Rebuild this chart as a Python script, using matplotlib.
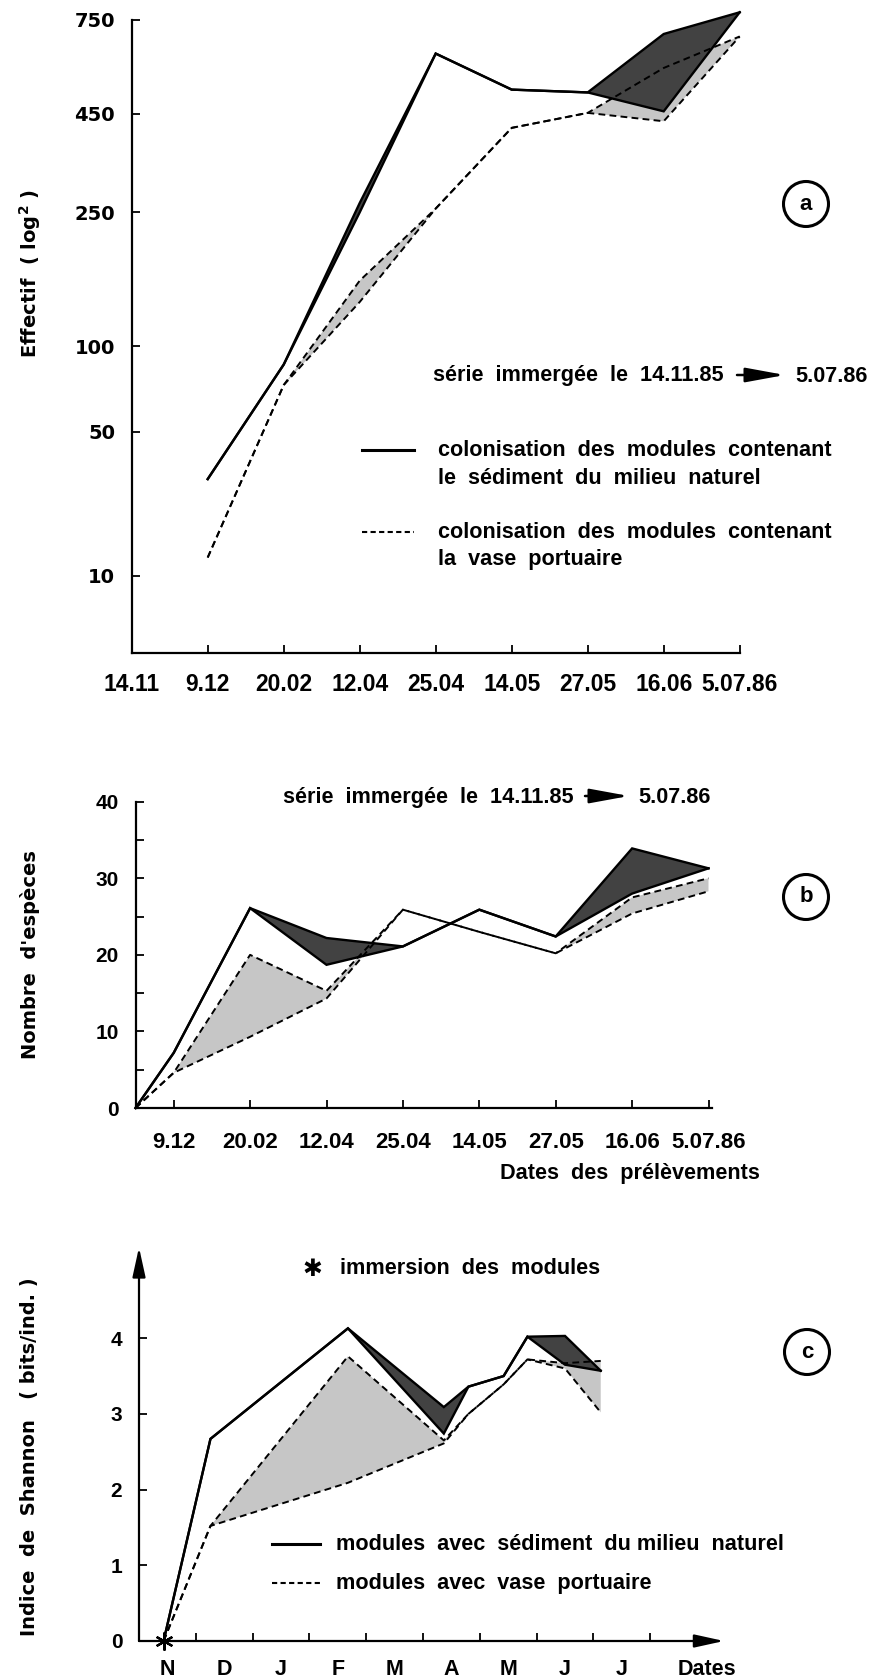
import numpy as np
import pandas as pd
import matplotlib
matplotlib.use("Agg")
import matplotlib.pyplot as plt
from matplotlib.patches import Circle, FancyArrowPatch
from matplotlib.lines import Line2D

# ---------------------------------------------------------------- data
# (a) abundance, two replicate modules per sediment type
dates_a = ["14.11", "9.12", "20.02", "12.04", "25.04", "14.05", "27.05", "16.06", "5.07.86"]
eff_nat_1 = [32, 87, 265, 627, 515, 507, 696, 780]
eff_nat_2 = [32, 87, 250, 627, 515, 507, 456, 780]
eff_vase_1 = [13, 74, 138, 256, 415, 452, 431, 687]
eff_vase_2 = [13, 74, 160, 256, 415, 452, 580, 687]
yticks_a = [10, 50, 100, 250, 450, 750]

# (b) number of species (series starts at 0 on 14.11)
dates_b = ["9.12", "20.02", "12.04", "25.04", "14.05", "27.05", "16.06", "5.07.86"]
sp_nat_1 = [0, 7.2, 26.1, 22.2, 21.1, 25.9, 22.4, 33.9, 31.3]
sp_nat_2 = [0, 7.2, 26.1, 18.7, 21.1, 25.9, 22.4, 28.0, 31.3]
sp_vase_1 = [0, 4.6, 9.3, 14.3, 25.9, 23.0, 20.2, 25.4, 28.3]
sp_vase_2 = [0, 4.6, 20.0, 15.3, 25.9, 23.0, 20.2, 27.5, 30.0]

# (c) Shannon index
dates_c = ["1985-11-14", "1985-12-09", "1986-02-20", "1986-04-12", "1986-04-25",
           "1986-05-14", "1986-05-27", "1986-06-16", "1986-07-05"]
sh_nat_1 = [0, 2.67, 4.13, 3.09, 3.36, 3.50, 4.02, 4.03, 3.57]
sh_nat_2 = [0, 2.67, 4.13, 2.74, 3.36, 3.50, 4.02, 3.65, 3.57]
sh_vase_1 = [0, 1.52, 2.09, 2.61, 3.00, 3.39, 3.72, 3.60, 3.02]
sh_vase_2 = [0, 1.52, 3.76, 2.65, 3.00, 3.39, 3.72, 3.67, 3.70]
months_c = ["N", "D", "J", "F", "M", "A", "M", "J", "J"]

# ---------------------------------------------------------------- style
W, H, DPI = 873, 1679, 100
TXT = ["Liberation Sans", "DejaVu Sans"]
NUM = ["DejaVu Sans"]
DARK = "#424242"
LIGHT = "#c6c6c6"
LW_S = 1.7
LW_D = 1.4
DASH = (0, (3.5, 2.2))
FS = 15.6

fig = plt.figure(figsize=(W / DPI, H / DPI), dpi=DPI)


def box(x0, y0, x1, y1):
    """axes rectangle from pixel corners (top-left origin)"""
    return [x0 / W, 1 - y1 / H, (x1 - x0) / W, (y1 - y0) / H]


def fx(x):
    return x / W


def fy(y):
    return 1 - y / H


def pair(ax, x, r1, r2, solid, fillc, zf):
    x = np.asarray(x, float)
    r1 = np.asarray(r1, float)
    r2 = np.asarray(r2, float)
    ax.fill(np.r_[x, x[::-1]], np.r_[r1, r2[::-1]], color=fillc, lw=0,
            zorder=zf, clip_on=False)
    for r in (r1, r2):
        if solid:
            ax.plot(x, r, color="k", lw=LW_S, zorder=5, clip_on=False,
                    solid_joinstyle="miter")
        else:
            ax.plot(x, r, color="k", lw=LW_D, ls=DASH, zorder=4, clip_on=False)


def base_axes(ax):
    for s in ("top", "right"):
        ax.spines[s].set_visible(False)
    for s in ("left", "bottom"):
        ax.spines[s].set_linewidth(1.6)
    ax.tick_params(which="both", direction="in", width=1.3, length=6, colors="k")


def circ_label(x, y, s):
    fig.add_artist(Circle((x / DPI, (H - y) / DPI), 22.5 / DPI,
                          transform=fig.dpi_scale_trans, fill=False, lw=2.2,
                          ec="k"))
    fig.text(fx(x), fy(y), s, ha="center", va="center", fontsize=16,
             fontweight="bold", family=TXT)


def legend_line(x0, x1, y, solid):
    if solid:
        ln = Line2D([fx(x0), fx(x1)], [fy(y), fy(y)], color="k", lw=2.2,
                    transform=fig.transFigure)
    else:
        ln = Line2D([fx(x0), fx(x1)], [fy(y), fy(y)], color="k", lw=1.5,
                    ls=(0, (2.5, 1.6)), transform=fig.transFigure)
    fig.add_artist(ln)


def series_note(x_left, y, x_arrow0, x_arrow1, x_end):
    fig.text(fx(x_left), fy(y), "série  immergée  le  14.11.85", ha="left",
             va="center", fontsize=FS, fontweight="bold", family=TXT)
    fig.add_artist(FancyArrowPatch(
        (fx(x_arrow0), fy(y - 1)), (fx(x_arrow1), fy(y - 1)),
        transform=fig.transFigure,
        arrowstyle="-|>,head_length=1.2,head_width=0.22",
        mutation_scale=20, lw=1.8, color="k", shrinkA=0, shrinkB=0))
    fig.text(fx(x_end), fy(y), "5.07.86", ha="left", va="center",
             fontsize=FS, fontweight="bold", family=TXT)


# ---------------------------------------------------------------- (a)
axa = fig.add_axes(box(131.7, 19.8, 739.7, 652.5))
axa.set_yscale("function",
               functions=(lambda v: np.log10(np.maximum(v, 1.0)) ** 2,
                          lambda u: 10 ** np.sqrt(np.maximum(u, 0.0))))
axa.set_ylim(1, 750)
axa.set_xlim(0, 8)
base_axes(axa)
xa = np.arange(1, 9)
pair(axa, xa, eff_vase_1, eff_vase_2, False, LIGHT, 1)
pair(axa, xa, eff_nat_1, eff_nat_2, True, DARK, 2)
axa.set_xticks(np.arange(0, 9))
axa.set_xticklabels(dates_a, fontsize=16.5, fontweight="bold", family=TXT)
axa.set_yticks(yticks_a)
axa.set_yticklabels([str(v) for v in yticks_a], fontsize=14,
                    fontweight="bold", family=NUM)
axa.yaxis.set_minor_locator(matplotlib.ticker.NullLocator())
axa.tick_params(axis="x", pad=15)
axa.tick_params(axis="y", pad=12)

fig.text(fx(30), fy(273), "Effectif  ( log$^{\\mathbf{2}}$ )", rotation=90,
         ha="center", va="center", fontsize=14, fontweight="bold", family=NUM)
series_note(433, 376, 737, 785, 795)
legend_line(362, 414, 450, True)
fig.text(fx(438), fy(450), "colonisation  des  modules  contenant",
         ha="left", va="center", fontsize=FS, fontweight="bold", family=TXT)
fig.text(fx(438), fy(479), "le  sédiment  du  milieu  naturel",
         ha="left", va="center", fontsize=FS, fontweight="bold", family=TXT)
legend_line(362, 414, 532, False)
fig.text(fx(438), fy(532), "colonisation  des  modules  contenant",
         ha="left", va="center", fontsize=FS, fontweight="bold", family=TXT)
fig.text(fx(438), fy(560), "la  vase  portuaire",
         ha="left", va="center", fontsize=FS, fontweight="bold", family=TXT)
circ_label(806, 204, "a")

# ---------------------------------------------------------------- (b)
axb = fig.add_axes(box(135.5, 801.7, 135.5 + 7.55 * 76.4, 1108))
axb.set_xlim(0, 7.55)
axb.set_ylim(0, 40)
base_axes(axb)
xb = np.r_[0, np.arange(8) + 0.5]
pair(axb, xb, sp_vase_1, sp_vase_2, False, LIGHT, 1)
pair(axb, xb, sp_nat_1, sp_nat_2, True, DARK, 2)
axb.set_xticks(np.arange(8) + 0.5)
axb.set_xticklabels(dates_b, fontsize=16, fontweight="bold", family=TXT)
axb.set_yticks([0, 10, 20, 30, 40])
axb.set_yticklabels(["0", "10", "20", "30", "40"], fontsize=15,
                    fontweight="bold", family=TXT)
axb.set_yticks([5, 15, 25, 35], minor=True)
axb.tick_params(axis="x", pad=17)
axb.tick_params(axis="y", pad=12)

fig.text(fx(30), fy(955), "Nombre  d'espèces", rotation=90, ha="center",
         va="center", fontsize=14, fontweight="bold", family=NUM)
series_note(283, 797, 585, 629, 638)
fig.text(fx(760), fy(1174), "Dates  des  prélèvements", ha="right",
         va="center", fontsize=FS, fontweight="bold", family=TXT)
circ_label(806, 897, "b")

# ---------------------------------------------------------------- (c)
def month_pos(d):
    d = pd.Timestamp(d)
    return (d.year - 1985) * 12 + d.month - 11 + (d.day - 1) / d.days_in_month


axc = fig.add_axes(box(139, 1641 - 5.2 * 75.7, 139 + 10.3 * 56.8, 1641))
axc.set_xlim(0, 10.3)
axc.set_ylim(0, 5.2)
for s in axc.spines.values():
    s.set_visible(False)
axc.tick_params(which="both", direction="in", width=1.3, length=6, colors="k")
xc = np.array([month_pos(d) for d in dates_c])
pair(axc, xc, sh_vase_1, sh_vase_2, False, LIGHT, 1)
pair(axc, xc, sh_nat_1, sh_nat_2, True, DARK, 2)
axc.plot(xc[0], 0, marker=(6, 2, 0), ms=13, mew=1.6, color="k", zorder=7,
         clip_on=False)

arrow = dict(arrowstyle="-|>,head_length=1.0,head_width=0.22", lw=1.6,
             color="k", mutation_scale=18, shrinkA=0, shrinkB=0)
axc.annotate("", xy=(10.3, 0), xytext=(0, 0), arrowprops=arrow,
             annotation_clip=False, zorder=3)
axc.annotate("", xy=(0, 5.2), xytext=(0, 0), arrowprops=arrow,
             annotation_clip=False, zorder=3)

axc.set_yticks([0, 1, 2, 3, 4])
axc.set_yticklabels(["0", "1", "2", "3", "4"], fontsize=15,
                    fontweight="bold", family=TXT)
axc.set_xticks(np.arange(1, 10))
axc.set_xticklabels([])
axc.set_xticks(list(np.arange(9) + 0.5) + [10.0], minor=True)
axc.set_xticklabels(months_c + ["Dates"], minor=True, fontsize=15.5,
                    fontweight="bold", family=TXT)
axc.tick_params(axis="x", which="minor", length=0, pad=13)
axc.tick_params(axis="y", pad=12)

fig.text(fx(30), fy(1457), "Indice  de  Shannon   ( bits/ind. )", rotation=90,
         ha="center", va="center", fontsize=14, fontweight="bold", family=NUM)
fig.text(fx(312), fy(1269), "✱", ha="center", va="center", fontsize=17,
         fontweight="bold", family=["DejaVu Sans"])
fig.text(fx(340), fy(1268), "immersion  des  modules", ha="left",
         va="center", fontsize=FS, fontweight="bold", family=TXT)
legend_line(272, 320, 1544, True)
fig.text(fx(336), fy(1544), "modules  avec  sédiment  du milieu  naturel",
         ha="left", va="center", fontsize=FS, fontweight="bold", family=TXT)
legend_line(272, 320, 1583, False)
fig.text(fx(336), fy(1583), "modules  avec  vase  portuaire",
         ha="left", va="center", fontsize=FS, fontweight="bold", family=TXT)
circ_label(807, 1352, "c")

fig.savefig("out.png", dpi=DPI, facecolor="white")
